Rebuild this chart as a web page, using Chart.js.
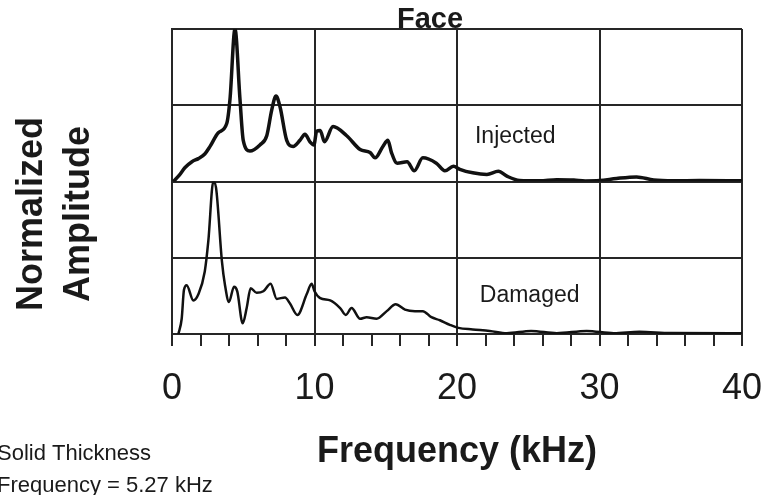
<!DOCTYPE html>
<html lang="en">
<head>
    <meta charset="UTF-8">
    <title>Face - Normalized Amplitude</title>
    <script src="https://cdn.jsdelivr.net/npm/chart.js"></script>
    <style>
        body {
            margin: 0;
            padding: 0;
            background: #ffffff;
        }
        #wrap {
            width: 763px;
            height: 495px;
        }
    </style>
</head>
<body>
    <div id="wrap">
        <canvas id="spectra" width="763" height="495"></canvas>
    </div>

    <script>
        // Injected panel (top), frequency in kHz and normalized amplitude
        const injectedFreq = [0.1, 0.5, 0.9, 1.4, 1.85, 2.3, 2.67, 3.25, 3.84, 4.07, 4.42, 4.77, 5.0, 5.47, 6.17, 6.65, 7.0, 7.3, 7.58, 8.05,
            8.5, 8.98, 9.33, 9.68, 9.96, 10.15, 10.4, 10.7, 11.3, 12.26, 13.2, 13.9, 14.25, 14.8, 15.15, 15.4, 15.8, 16.5, 17.0, 17.6,
            18.55, 19.15, 19.75, 20.2, 21.1, 22.1, 22.9, 23.5, 24.4, 25.8, 27.0, 28.2, 29.0, 30.0, 31.2, 32.6, 33.8, 35.2, 37.0, 40.0];
        const injectedAmp = [0, 0.04, 0.09, 0.13, 0.15, 0.18, 0.23, 0.32, 0.38, 0.54, 1.0, 0.54, 0.27, 0.2, 0.24, 0.30, 0.47, 0.56, 0.49, 0.27,
            0.23, 0.27, 0.31, 0.26, 0.24, 0.33, 0.335, 0.26, 0.36, 0.30, 0.21, 0.19, 0.155, 0.23, 0.27, 0.19, 0.12, 0.13, 0.07, 0.155,
            0.12, 0.07, 0.10, 0.08, 0.057, 0.046, 0.067, 0.035, 0.007, 0.005, 0.012, 0.01, 0.004, 0.006, 0.02, 0.03, 0.01, 0.005, 0.006, 0.005];

        // Damaged panel (bottom)
        const damagedFreq = [0.45, 0.68, 0.84, 1.03, 1.5, 1.85, 2.3, 2.55, 2.9, 3.09, 3.5, 3.72, 4.0, 4.35, 4.58, 4.96, 5.24, 5.52, 5.94, 6.41,
            6.92, 7.35, 7.93, 8.28, 8.8, 9.45, 9.8, 10.0, 10.4, 11.1, 11.8, 12.2, 12.6, 13.2, 13.66, 14.36, 15.07, 15.7, 16.35, 17.05,
            17.6, 18.2, 18.8, 19.5, 20.1, 21.1, 22.3, 23.5, 25.2, 27.0, 29.1, 31.0, 32.8, 35.0, 40.0];
        const damagedAmp = [0, 0.10, 0.29, 0.32, 0.22, 0.26, 0.41, 0.61, 1.0, 0.96, 0.48, 0.32, 0.21, 0.31, 0.28, 0.07, 0.17, 0.30, 0.27, 0.28,
            0.33, 0.23, 0.24, 0.20, 0.125, 0.26, 0.33, 0.28, 0.235, 0.22, 0.17, 0.125, 0.17, 0.10, 0.11, 0.10, 0.15, 0.195, 0.16, 0.15,
            0.15, 0.11, 0.09, 0.06, 0.04, 0.03, 0.02, 0.005, 0.02, 0.005, 0.02, 0.005, 0.015, 0.006, 0.005];

        const xTickLabels = [0, 10, 20, 30, 40];
        const panelLabels = ['Injected', 'Damaged'];

        const FONT = "'Liberation Sans', Arial, sans-serif";
        const INK = '#1a1a1a';
        const RULE = '#262626';

        function toPoints(xs, ys) {
            return xs.map((x, i) => ({ x: x, y: ys[i] }));
        }

        // extra text: title, y label, panel names, footnote
        const textPlugin = {
            id: 'extraText',
            afterDraw(chart) {
                const ctx = chart.ctx;
                const x = chart.scales.x;
                const yTop = chart.scales.yInj;
                const yBot = chart.scales.yDam;
                ctx.save();
                ctx.fillStyle = INK;

                ctx.font = 'bold 29px ' + FONT;
                ctx.textAlign = 'center';
                ctx.textBaseline = 'alphabetic';
                ctx.fillText('Face', 430, 28);

                ctx.save();
                ctx.translate(0, 214);
                ctx.rotate(-Math.PI / 2);
                ctx.font = 'bold 36px ' + FONT;
                ctx.fillText('Normalized', 0, 42);
                ctx.fillText('Amplitude', 0, 89);
                ctx.restore();

                ctx.font = '23px ' + FONT;
                ctx.textAlign = 'left';
                ctx.fillText(panelLabels[0], x.getPixelForValue(21.26), yTop.getPixelForValue(0.255));
                ctx.fillText(panelLabels[1], x.getPixelForValue(21.6), yBot.getPixelForValue(0.21));

                ctx.font = '22px ' + FONT;
                ctx.fillText('Solid Thickness', -3, 460);
                ctx.fillText('Frequency = 5.27 kHz', -3, 492);
                ctx.restore();
            }
        };

        function panelAxis() {
            return {
                type: 'linear',
                position: 'left',
                stack: 'panels',
                min: 0,
                max: 1,
                ticks: { display: false, stepSize: 0.5 },
                grid: { color: RULE, lineWidth: 2, drawTicks: false },
                border: { color: RULE, width: 2 },
                afterFit(scale) { scale.width = 172; }
            };
        }

        const chart = new Chart(document.getElementById('spectra').getContext('2d'), {
            type: 'line',
            data: {
                datasets: [{
                    label: panelLabels[0],
                    data: toPoints(injectedFreq, injectedAmp),
                    yAxisID: 'yInj',
                    borderColor: '#111',
                    borderWidth: 3.5,
                    pointRadius: 0,
                    cubicInterpolationMode: 'monotone',
                    fill: false
                }, {
                    label: panelLabels[1],
                    data: toPoints(damagedFreq, damagedAmp),
                    yAxisID: 'yDam',
                    borderColor: '#111',
                    borderWidth: 2.5,
                    pointRadius: 0,
                    cubicInterpolationMode: 'monotone',
                    fill: false
                }]
            },
            options: {
                responsive: false,
                animation: false,
                layout: { padding: { left: 0, right: 21, top: 29, bottom: 0 } },
                plugins: {
                    legend: { display: false },
                    tooltip: { enabled: false }
                },
                scales: {
                    x: {
                        type: 'linear',
                        position: 'bottom',
                        min: 0,
                        max: 40,
                        ticks: {
                            stepSize: 2,
                            autoSkip: false,
                            maxRotation: 0,
                            padding: 21,
                            color: INK,
                            font: { family: FONT, size: 36 },
                            callback: v => xTickLabels.includes(v) ? String(v) : ''
                        },
                        grid: {
                            color: c => (c.tick && c.tick.value % 10 === 0) ? RULE : 'rgba(0,0,0,0)',
                            tickColor: RULE,
                            tickLength: 12,
                            lineWidth: 2
                        },
                        border: { color: RULE, width: 2 },
                        title: {
                            display: true,
                            text: 'Frequency (kHz)',
                            color: INK,
                            font: { family: FONT, size: 36, weight: 'bold' },
                            padding: { top: 0, bottom: 21 }
                        },
                        afterFit(scale) {
                            scale.height = 161;
                            scale.paddingLeft = 0;
                            scale.paddingRight = 0;
                        }
                    },
                    // defined first so it sits at the bottom of the stack
                    yDam: panelAxis(),
                    yInj: panelAxis()
                }
            },
            plugins: [textPlugin]
        });
    </script>
</body>
</html>
